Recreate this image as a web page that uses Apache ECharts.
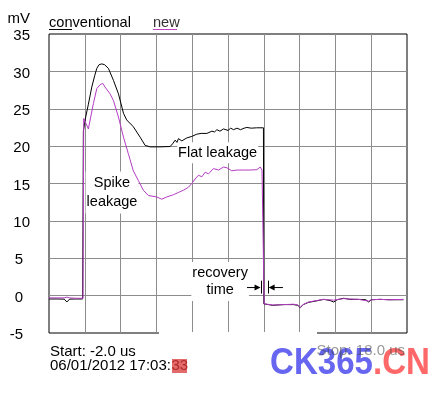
<!DOCTYPE html>
<html><head><meta charset="utf-8">
<script src="https://cdn.jsdelivr.net/npm/echarts@6/dist/echarts.min.js"></script>
<style>html,body{margin:0;padding:0;background:#fff}#c{width:445px;height:397px}</style>
</head><body><div id="c"></div>
<script>
// ---- data (time in us, voltage in mV) ----
const yMin = -5, yMax = 35, yStep = 5;
const xMin = -2, xMax = 18, xStep = 2;
const legendNames = ['conventional', 'new'];
const convT = [-2.0,-1.5,-1.15,-1.0,-0.85,-0.5,-0.12,-0.08,0.05,0.2,0.39,0.55,0.67,0.8,0.95,1.1,1.32,1.6,1.88,2.16,2.34,2.71,3.09,3.37,3.65,4.2,4.77,4.9,5.05,5.15,5.23,5.42,5.7,5.98,6.26,6.5,6.82,7.1,7.25,7.38,7.55,7.75,8.0,8.15,8.31,8.5,8.7,8.9,9.05,9.3,9.6,9.98,10.0,10.5,11.1,11.66,11.9,12.04,12.2,12.5,12.97,13.34,13.7,13.9,14.1,14.46,14.8,15.3,15.7,15.86,16.0,16.5,17.0,17.8];
const convV = [-0.45,-0.45,-0.47,-0.85,-0.47,-0.45,-0.45,22.0,23.9,25.6,27.9,29.4,30.4,30.9,31.0,30.9,30.4,28.8,27.0,24.4,23.5,22.6,21.2,20.1,19.9,19.9,19.95,20.3,20.8,20.5,21.0,20.7,21.1,21.3,21.6,21.7,21.7,22.0,21.9,22.2,22.0,22.3,22.1,22.4,22.2,22.4,22.2,22.4,22.5,22.4,22.45,22.45,-1.1,-1.3,-1.2,-1.2,-1.3,-1.6,-1.2,-0.9,-0.7,-0.5,-0.65,-0.85,-0.55,-0.35,-0.5,-0.5,-0.55,-0.85,-0.55,-0.5,-0.55,-0.55];
const newT = [-2.0,-1.5,-1.15,-1.0,-0.85,-0.5,-0.1,-0.06,0.2,0.48,0.67,0.85,1.0,1.13,1.41,1.6,1.88,2.16,2.43,2.71,2.99,3.27,3.55,4.02,4.3,4.58,4.95,5.23,5.51,5.79,5.98,6.07,6.16,6.35,6.54,6.72,6.91,7.19,7.47,7.75,7.94,8.21,8.49,8.87,9.24,9.61,9.8,9.9,9.98,10.02,10.5,11.1,11.66,11.9,12.04,12.2,12.5,12.97,13.34,13.9,14.46,14.8,15.3,15.86,16.0,16.5,17.0,17.8];
const newV = [-0.3,-0.3,-0.3,-0.2,-0.3,-0.35,-0.35,23.7,22.3,25.7,27.7,28.2,28.4,27.9,27.0,26.1,23.9,21.2,19.0,16.7,15.4,14.1,13.4,13.2,12.9,13.2,13.5,13.8,14.1,14.5,15.0,14.8,15.6,16.1,15.9,16.5,16.3,17.0,16.8,17.2,17.1,16.7,16.8,16.8,16.8,16.85,17.2,16.8,17.0,-1.1,-1.25,-1.2,-1.15,-1.25,-1.55,-1.2,-0.85,-0.65,-0.5,-0.6,-0.4,-0.45,-0.5,-0.75,-0.55,-0.5,-0.55,-0.5];

const FONT = '"Liberation Sans", Arial, sans-serif';
const zip = (t, v) => t.map((x, i) => [x, v[i]]);
const chart = echarts.init(document.getElementById('c'), null, {renderer: 'canvas'});

chart.setOption({
  animation: false,
  backgroundColor: '#fff',
  grid: {left: 49, right: 38, top: 34, bottom: 64, show: true, borderColor: '#000', borderWidth: 1, backgroundColor: '#fff'},
  xAxis: {
    type: 'value', min: xMin, max: xMax, interval: xStep,
    axisLine: {show: false}, axisTick: {show: false}, axisLabel: {show: false},
    splitLine: {show: true, showMinLine: false, showMaxLine: false, lineStyle: {color: '#8c8c8c', width: 1}}
  },
  yAxis: {
    type: 'value', min: yMin, max: yMax, interval: yStep,
    axisLine: {show: false}, axisTick: {show: false},
    axisLabel: {
      margin: 19,
      formatter: v => (Math.abs(v) < 10 ? '{s|' + v + '}' : '{d|' + v + '}'),
      rich: {
        d: {fontFamily: FONT, fontSize: 15, color: '#000', padding: [4, 0, 0, 0]},
        s: {fontFamily: FONT, fontSize: 15, color: '#000', padding: [4, 7, 0, 0]}
      }
    },
    splitLine: {show: true, showMinLine: false, showMaxLine: false, lineStyle: {color: '#8c8c8c', width: 1}}
  },
  series: [
    {type: 'line', name: legendNames[0], data: zip(convT, convV), symbol: 'none', lineStyle: {color: '#000', width: 1}, z: 3},
    {type: 'line', name: legendNames[1], data: zip(newT, newV), symbol: 'none', lineStyle: {color: '#b43cc4', width: 1}, z: 4}
  ]
});

const P = (t, v) => chart.convertToPixel({xAxisIndex: 0, yAxisIndex: 0}, [t, v]);
const txt = (x, y, text, o) => Object.assign({type: 'text', x, y, z: 5, style: Object.assign({text, fontFamily: FONT, fontSize: 15, fill: '#000', align: 'left', verticalAlign: 'middle'}, o || {})});
const g = [];

// y axis unit
g.push(txt(30, 19, 'mV', {align: 'right'}));
// legend
g.push(txt(49, 23, legendNames[0], {fontSize: 14.6}));
g.push({type: 'line', z: 5, shape: {x1: 49, y1: 29.5, x2: 72, y2: 29.5}, style: {stroke: '#000', lineWidth: 1}});
g.push(txt(153, 23, legendNames[1], {fontSize: 14.6, fill: '#333'}));
g.push({type: 'line', z: 5, shape: {x1: 153, y1: 29.5, x2: 177, y2: 29.5}, style: {stroke: '#c040c0', lineWidth: 1}});

// annotations (data coordinates)
const ann = [
  {t: 7.42, v: 19.1, text: 'Flat leakage', lh: 17},
  {t: 1.52, v: 13.8, text: 'Spike\nleakage', lh: 19},
  {t: 7.56, v: 1.88, text: 'recovery\ntime', lh: 17.5}
];
ann.forEach(a => {
  const p = P(a.t, a.v);
  g.push(txt(p[0], p[1], a.text, {fontSize: 14.5, align: 'center', lineHeight: a.lh, backgroundColor: '#fff', padding: [2, 1, 2, 1]}));
  g[g.length - 1].z = 2;
});

// recovery time arrows
const ay = 1.08;
const arrow = (t0, t1) => {
  const a = P(t0, ay), b = P(t1, ay);
  const d = b[0] > a[0] ? 1 : -1;
  g.push({type: 'line', z: 5, shape: {x1: a[0], y1: a[1], x2: b[0] - d * 4, y2: b[1]}, style: {stroke: '#000', lineWidth: 1}});
  g.push({type: 'polygon', z: 5, shape: {points: [[b[0], b[1]], [b[0] - d * 6, b[1] - 3], [b[0] - d * 6, b[1] + 3]]}, style: {fill: '#000'}});
};
arrow(9.06, 9.82);
arrow(11.07, 10.27);
[9.87, 10.22].forEach(t => {
  const a = P(t, 2.0), b = P(t, 0.28);
  g.push({type: 'line', z: 5, shape: {x1: Math.round(a[0]) + 0.5, y1: a[1], x2: Math.round(a[0]) + 0.5, y2: b[1]}, style: {stroke: '#000', lineWidth: 1}});
});

// gap in bottom border
g.push({type: 'rect', z: 1, shape: {x: 159, y: 332, width: 158, height: 3}, style: {fill: '#fff'}});

// bottom info text
g.push(txt(50, 351.5, 'Start: -2.0 us'));
g.push(txt(50, 365.5, '06/01/2012 17:03:'));
g.push({type: 'rect', z: 5, shape: {x: 172, y: 359, width: 15, height: 14}, style: {fill: '#e26a6a'}});
g.push(txt(171.5, 365.5, '33', {fill: '#b22a2a'}));

// watermark
g.push({type: 'text', x: 270, y: 364, z: 8, scaleX: 0.894, style: {text: 'CK365', fontFamily: FONT, fontWeight: 'bold', fontSize: 37, fill: '#6666f0', align: 'left', verticalAlign: 'middle'}});
g.push({type: 'text', x: 373, y: 364, z: 8, scaleX: 0.894, style: {text: '.CN', fontFamily: FONT, fontWeight: 'bold', fontSize: 37, fill: '#ff6868', align: 'left', verticalAlign: 'middle'}});
g.push(Object.assign(txt(405, 351, 'Stop: 18.0 us', {align: 'right', fill: '#444', opacity: 0.55}), {z: 9}));

chart.setOption({graphic: {elements: g}});
</script>
</body></html>
